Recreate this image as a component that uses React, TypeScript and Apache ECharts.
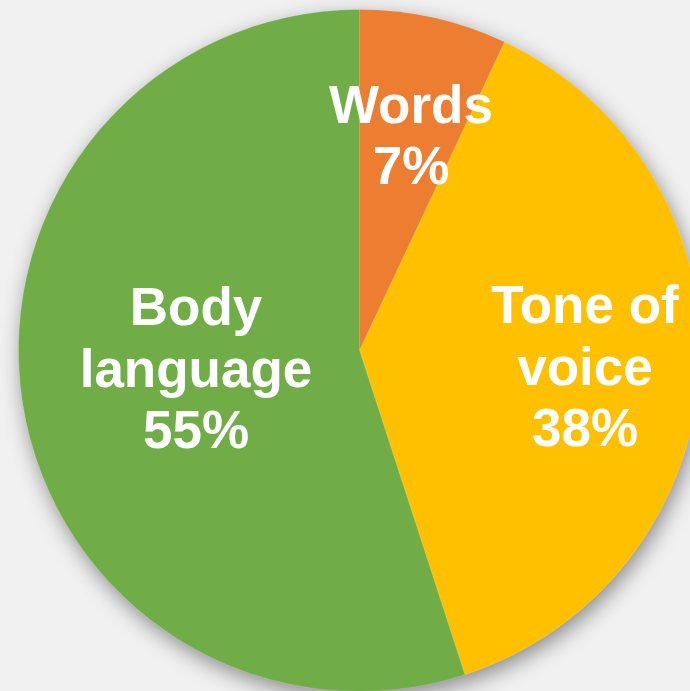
import React, { useEffect, useRef } from "react";
import * as echarts from "echarts";

const categories = ["Words", "Tone of voice", "Body language"];
const labelTexts = ["Words", "Tone of\nvoice", "Body\nlanguage"];
const values = [7, 38, 55];
const colors = ["#ED7D31", "#FFC000", "#70AD47"];
// label anchor points (layout only)
const labelPos: [number, number][] = [
  [411, 135],
  [585, 366],
  [196, 368],
];

export default function App() {
  const ref = useRef<HTMLDivElement>(null);
  useEffect(() => {
    if (!ref.current) return;
    const chart = echarts.init(ref.current, undefined, { renderer: "svg" });
    chart.setOption({
      animation: false,
      backgroundColor: "#f1f1f1",
      series: [
        {
          type: "pie",
          silent: true,
          center: [359.5, 350.5],
          radius: 340,
          z: 1,
          label: { show: false },
          labelLine: { show: false },
          data: [
            {
              value: 1,
              itemStyle: {
                color: "#70AD47",
                shadowBlur: 22,
                shadowOffsetY: 7,
                shadowOffsetX: 3,
                shadowColor: "rgba(0,0,0,0.45)",
              },
            },
          ],
        },
        {
          type: "pie",
          z: 2,
          center: [359.5, 350.5],
          radius: 341,
          startAngle: 90,
          clockwise: true,
          avoidLabelOverlap: false,
          itemStyle: {
            borderColor: "rgba(255,255,255,0.25)",
            borderWidth: 0.6,
          },
          label: {
            show: true,
            position: "inside",
            color: "#ffffff",
            fontFamily: "Liberation Sans, Arial, sans-serif",
            fontWeight: "bold",
            fontSize: 53,
            lineHeight: 61.5,
            align: "center",
            verticalAlign: "middle",
            formatter: (p: any) => labelTexts[p.dataIndex] + "\n" + p.value + "%",
          },
          labelLayout: (p: any) => ({
            x: labelPos[p.dataIndex][0],
            y: labelPos[p.dataIndex][1],
            align: "center",
            verticalAlign: "middle",
          }),
          labelLine: { show: false },
          data: categories.map((name, i) => ({
            name,
            value: values[i],
            itemStyle: { color: colors[i] },
          })),
        },
      ],
    });
    return () => chart.dispose();
  }, []);
  return (
    <div
      ref={ref}
      style={{ position: "absolute", left: 0, top: 0, width: 690, height: 691 }}
    />
  );
}
